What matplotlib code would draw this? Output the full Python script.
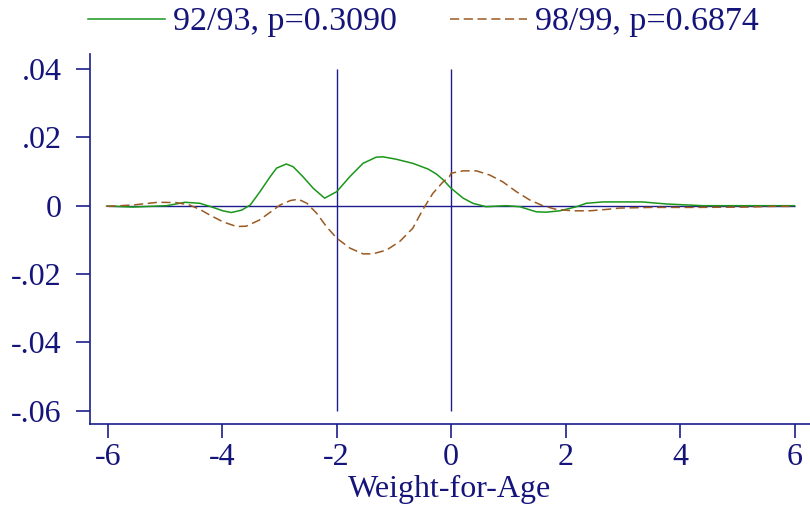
import matplotlib
matplotlib.use("Agg")
import matplotlib.pyplot as plt

# Series 92/93
x_9293 = [-6.02, -5.56, -4.97, -4.65, -4.39, -4.16, -3.99, -3.84, -3.66, -3.51, -3.34, -3.17,
          -3.05, -2.88, -2.76, -2.59, -2.41, -2.21, -2.0, -1.77, -1.54, -1.31, -1.19, -0.96,
          -0.67, -0.40, -0.26, -0.14, -0.03, 0.0, 0.21, 0.38, 0.61, 0.96, 1.2, 1.49, 1.66,
          1.90, 2.19, 2.36, 2.65, 3.34, 3.76, 4.4, 5.0, 5.5, 6.0]
y_9293 = [-0.0001, -0.0004, 0.0, 0.0010, 0.0007, -0.0005, -0.0015, -0.0020, -0.0013, 0.0002,
          0.0041, 0.0083, 0.0110, 0.0122, 0.0114, 0.0085, 0.0051, 0.0022, 0.0041, 0.0085,
          0.0124, 0.0142, 0.0143, 0.0136, 0.0124, 0.0107, 0.0093, 0.0076, 0.0056, 0.0051,
          0.0022, 0.0007, -0.0003, 0.0, -0.0003, -0.0018, -0.0019, -0.0015, -0.0003, 0.0007,
          0.0011, 0.0011, 0.0005, 0.0, 0.0, 0.0, 0.0]

# Series 98/99
x_9899 = [-6.02, -5.56, -5.12, -4.80, -4.57, -4.39, -4.22, -3.99, -3.75, -3.58, -3.35, -3.11,
          -2.99, -2.81, -2.67, -2.52, -2.35, -2.18, -2.0, -1.77, -1.54, -1.37, -1.13, -0.90,
          -0.67, -0.50, -0.32, -0.14, -0.03, 0.0, 0.21, 0.44, 0.67, 0.90, 1.14, 1.37, 1.60,
          1.84, 2.13, 2.42, 2.71, 2.94, 3.5, 4.3, 5.16, 5.6, 6.0]
y_9899 = [-0.0002, 0.0002, 0.0010, 0.0009, 0.0002, -0.0011, -0.0027, -0.0047, -0.0061, -0.0060,
          -0.0042, -0.0013, 0.0002, 0.0015, 0.0019, 0.0007, -0.0022, -0.0061, -0.0095, -0.0124,
          -0.0141, -0.0141, -0.0130, -0.0105, -0.0066, -0.0013, 0.0036, 0.0070, 0.0085, 0.0095,
          0.0102, 0.0102, 0.0090, 0.0070, 0.0041, 0.0017, 0.0, -0.0011, -0.0015, -0.0015,
          -0.0011, -0.0007, -0.0005, -0.0005, -0.0004, -0.0002, -0.0002]

labels = ["92/93, p=0.3090", "98/99, p=0.6874"]
x_ticks = [-6, -4, -2, 0, 2, 4, 6]
y_ticks = [0.04, 0.02, 0.0, -0.02, -0.04, -0.06]
y_ticklabels = [".04", ".02", "0", "-.02", "-.04", "-.06"]
ref_lines = [-2, 0]
xlabel = "Weight-for-Age"

navy = "#1c1c8c"
text_c = "#14147a"
green = "#1a961a"
brown = "#9a5a22"

plt.rcParams['font.family'] = ['Liberation Serif', 'DejaVu Serif']
fs = 23

fig = plt.figure(figsize=(8.1, 5.08), dpi=100)
ax = fig.add_axes([90/810, 1-424/508, 1-90/810, (424-54)/508])

ax.hlines(0, -6, 6, color=navy, lw=1.0, zorder=1)
for r in ref_lines:
    ax.vlines(r, -0.06, 0.04, color=navy, lw=1.0, zorder=1)

l1, = ax.plot(x_9293, y_9293, color=green, lw=1.1, label=labels[0], zorder=3)
l2, = ax.plot(x_9899, y_9899, color=brown, lw=1.1, ls=(0, (6, 3)), label=labels[1], zorder=3)

ax.set_xlim(-6.31, 6.27)
ax.set_ylim(-0.0639, 0.0444)
ax.set_xticks(x_ticks)
ax.set_xticklabels([str(t) for t in x_ticks])
ax.set_yticks(y_ticks)
ax.set_yticklabels(y_ticklabels)

for s in ["top", "right"]:
    ax.spines[s].set_visible(False)
for s in ["left", "bottom"]:
    ax.spines[s].set_color(navy)
    ax.spines[s].set_linewidth(1.2)

ax.tick_params(axis='both', direction='out', length=10, width=1.2, color=navy,
               labelcolor=text_c, labelsize=fs)
ax.tick_params(axis='y', pad=10.5)
ax.tick_params(axis='x', pad=4)
ax.set_xlabel(xlabel, fontsize=fs, color=text_c, labelpad=2)

fig.legend(handles=[l1, l2], labels=labels, loc='center', bbox_to_anchor=(0.523, 1-22/508),
           ncol=2, frameon=False, fontsize=24.5, labelcolor=text_c, handlelength=2.25,
           handletextpad=0.25, columnspacing=1.55, borderaxespad=0, borderpad=0)

fig.savefig("out.png", dpi=100)
